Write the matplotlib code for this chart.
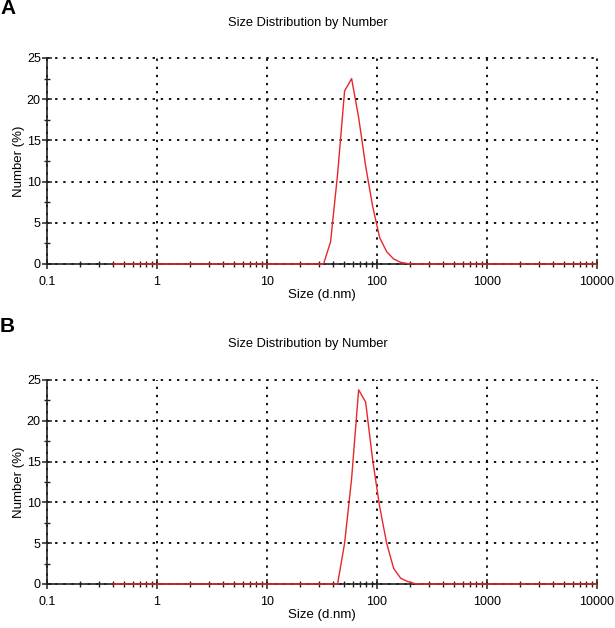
import matplotlib
matplotlib.use("Agg")
import matplotlib.pyplot as plt
from matplotlib.ticker import LogLocator, FixedLocator, NullFormatter

plt.rcParams['font.family'] = ['Liberation Sans', 'DejaVu Sans']

# sizes (d.nm) and number %
size_a = [0.4, 32.67, 37.84, 43.82, 50.75, 58.77, 68.06, 78.82, 91.28, 105.7,
          122.4, 141.8, 164.2, 190.1, 220.2, 10000]
number_a = [0, 0, 2.7, 10.9, 21.0, 22.5, 17.8, 11.9, 7.0, 3.2,
            1.5, 0.6, 0.2, 0.05, 0, 0]

size_b = [0.4, 43.82, 50.75, 58.77, 68.06, 78.82, 91.28, 105.7, 122.4,
          141.8, 164.2, 190.1, 220.2, 255.0, 10000]
number_b = [0, 0, 5.0, 12.9, 23.8, 22.3, 15.2, 9.5, 5.0,
            1.9, 0.7, 0.3, 0.05, 0, 0]

x_ticks = [0.1, 1, 10, 100, 1000, 10000]
x_labels = ["0.1", "1", "10", "100", "1000", "10000"]
y_ticks = [0, 5, 10, 15, 20, 25]

W, H = 615, 628
fig = plt.figure(figsize=(W / 100, H / 100), dpi=100)


def panel(top_px, bottom_px, sizes, values, letter, title_y, letter_y):
    ax = fig.add_axes([47 / W, (H - bottom_px) / H, 550 / W,
                       (bottom_px - top_px) / H])
    ax.plot(sizes, values, color='#e8262b', lw=1.0, zorder=5, clip_on=False)
    ax.set_xscale('log')
    ax.set_xlim(0.1, 10000)
    ax.set_ylim(0, 25)
    ax.set_xticks(x_ticks)
    ax.set_xticklabels(x_labels)
    ax.xaxis.set_minor_locator(LogLocator(base=10, subs=range(2, 10), numticks=20))
    ax.xaxis.set_minor_formatter(NullFormatter())
    ax.set_yticks(y_ticks)
    ax.yaxis.set_minor_locator(FixedLocator([2.5, 7.5, 12.5, 17.5, 22.5]))
    ax.grid(True, which='major', color='black', linestyle=(0, (1.3, 3.2)),
            linewidth=1.3)
    for gl in ax.get_xgridlines() + ax.get_ygridlines():
        gl.set_clip_on(False)
    for s in ['top', 'right']:
        ax.spines[s].set_visible(False)
    for s in ['left', 'bottom']:
        ax.spines[s].set_linewidth(1.2)
        ax.spines[s].set_color('#222222')
    ax.tick_params(which='major', direction='inout', length=7, width=1.1,
                   labelsize=9, color='#222222')
    ax.tick_params(which='minor', direction='inout', length=5, width=1.0,
                   color='#222222')
    ax.tick_params(axis='x', pad=5)
    ax.tick_params(axis='y', pad=1)
    ax.set_xlabel("Size (d.nm)", fontsize=9.5, labelpad=1)
    ax.set_ylabel("Number (%)", fontsize=9.5, labelpad=1)
    fig.text(308 / W, 1 - title_y / H, "Size Distribution by Number",
             ha='center', va='center', fontsize=9.3)
    fig.text(0 / W, 1 - letter_y / H, letter, ha='left', va='center',
             fontsize=15, fontweight='bold')
    return ax


panel(58, 264, size_a, number_a, "A", 23, 9)
panel(380, 584, size_b, number_b, "B", 344, 326)

fig.savefig("out.png", dpi=100)
